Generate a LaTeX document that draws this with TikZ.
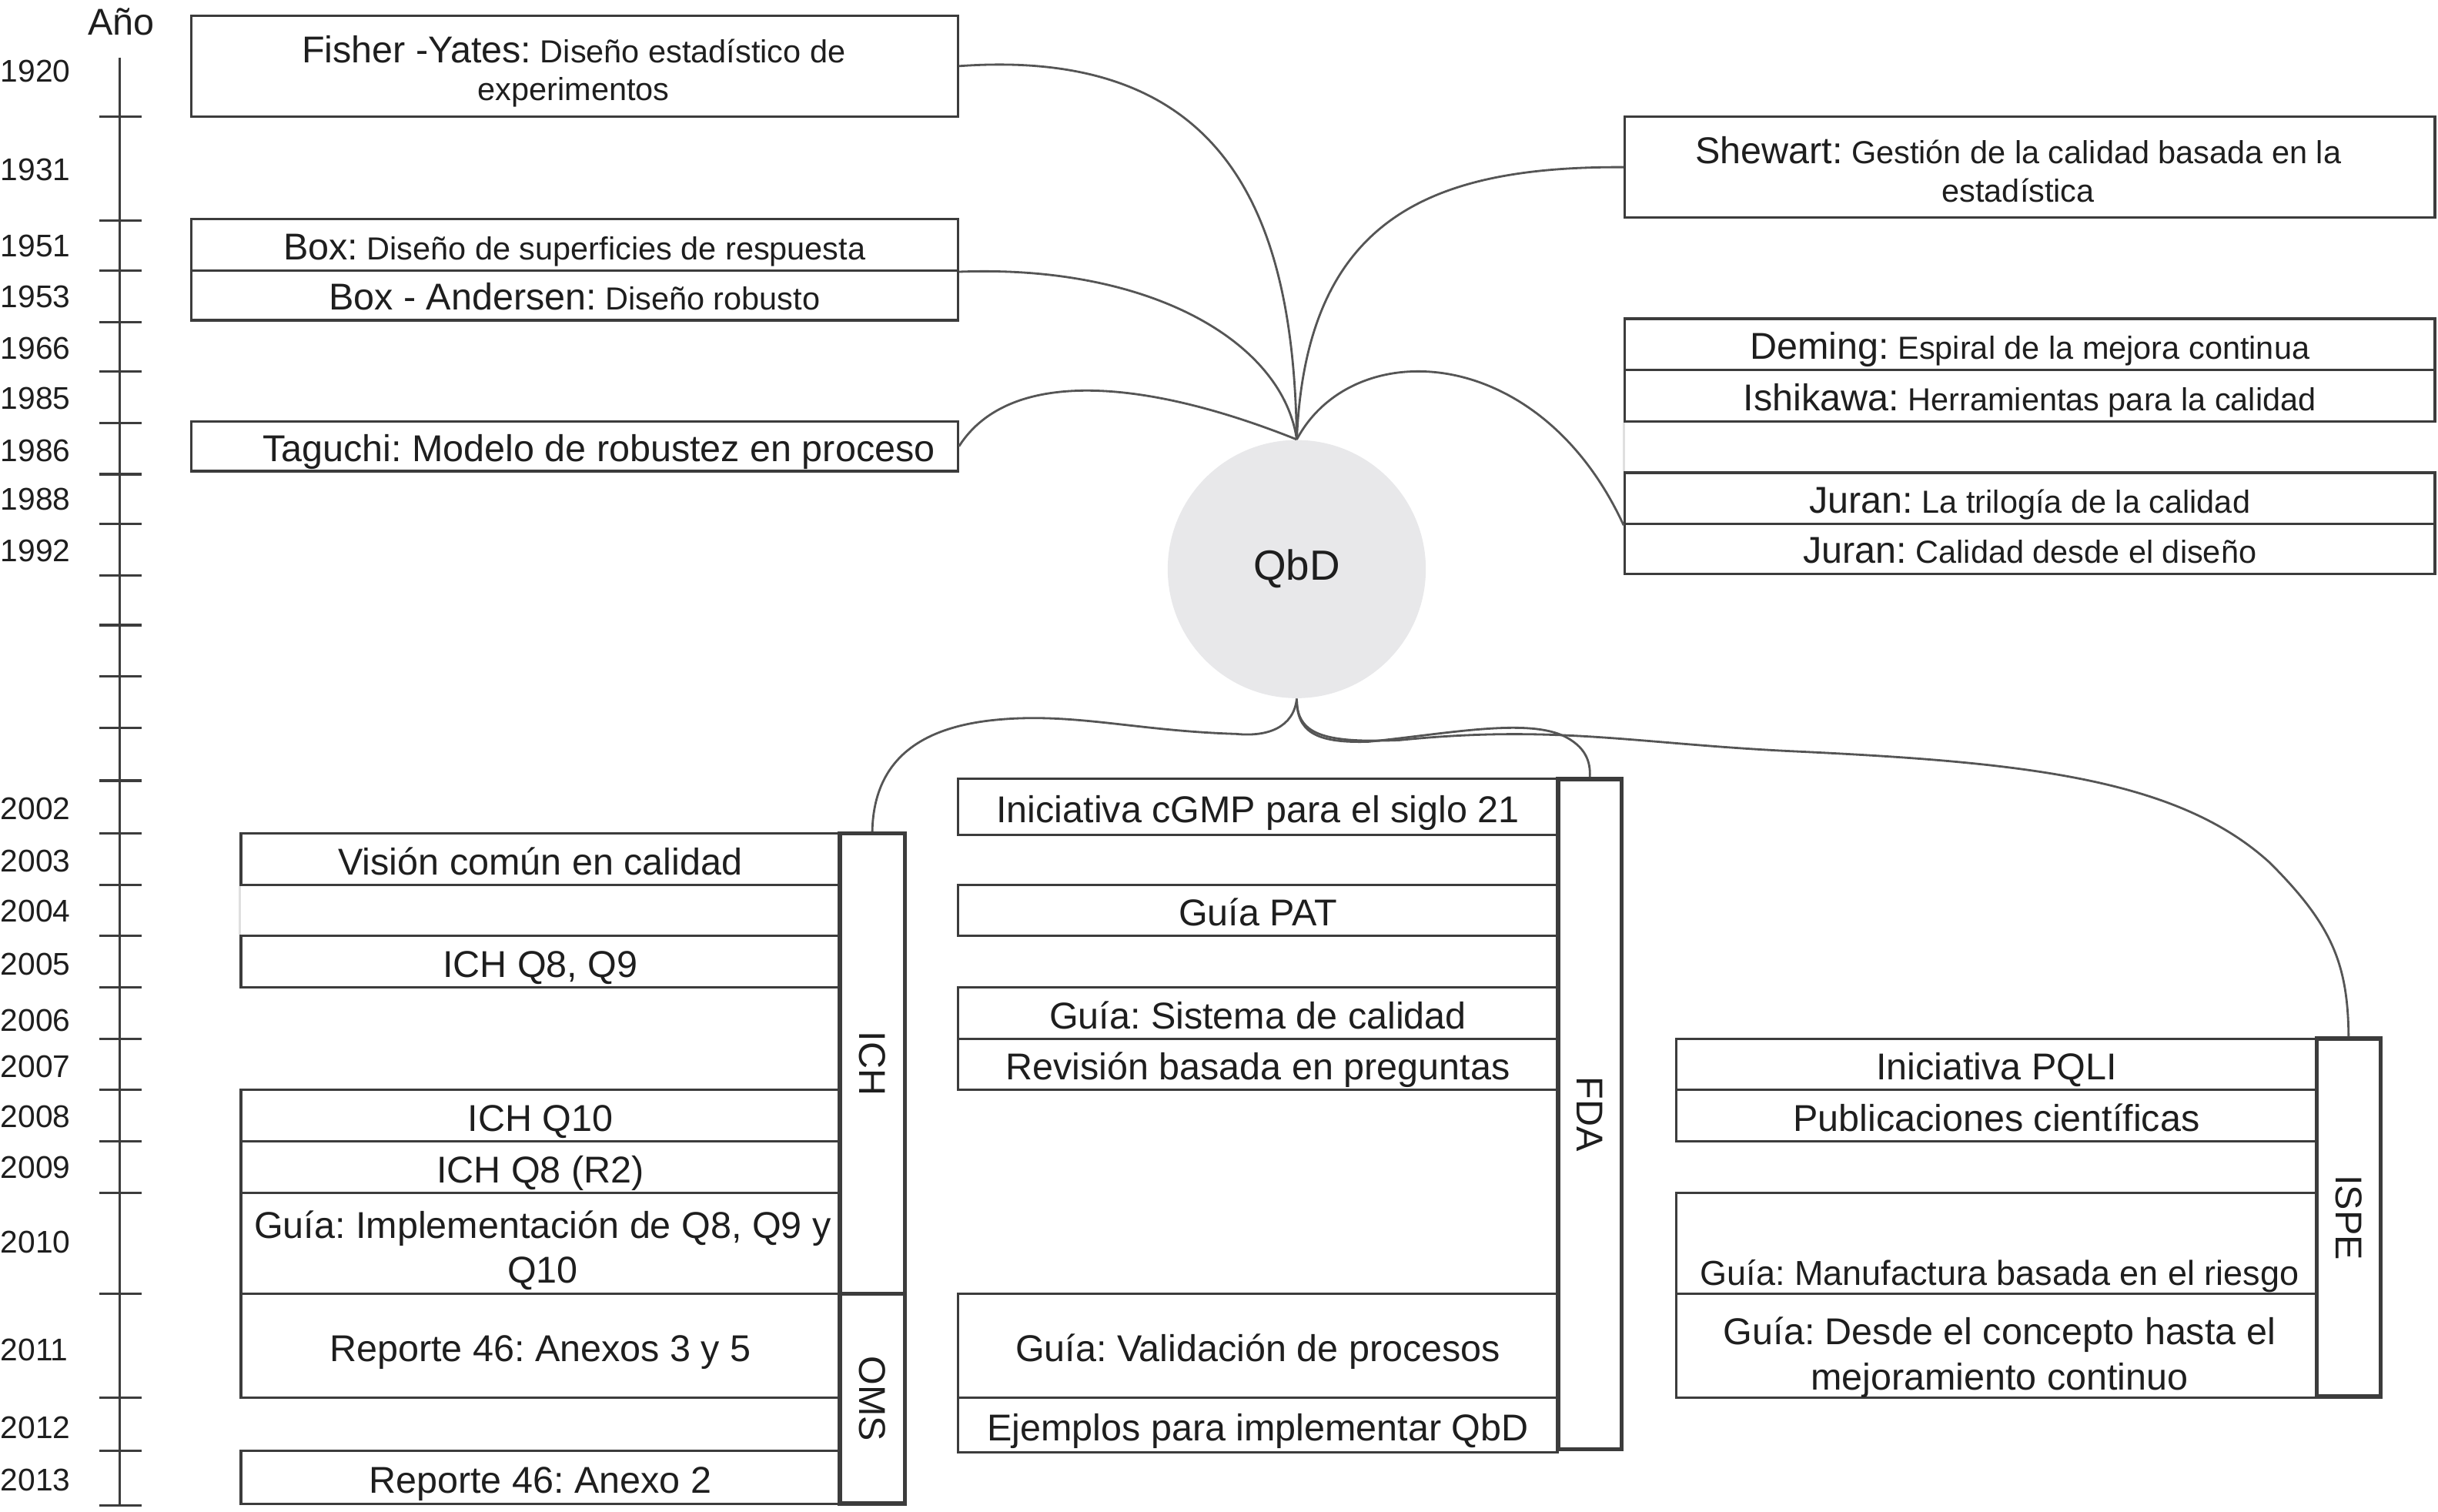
\documentclass[tikz,border=0pt]{standalone}
\usepackage{fontspec}
\setmainfont{Liberation Sans}
\frenchspacing
\newcommand\mainsz{\fontsize{13.8}{16.6}\selectfont}
\newcommand\descsz{\fontsize{11.8}{14}\selectfont}
\newcommand\yrsz{\fontsize{11.6}{14}\selectfont}
\newcommand\qbdsz{\fontsize{15.6}{18}\selectfont}
\definecolor{boxc}{HTML}{3C3C3C}
\definecolor{linec}{HTML}{555555}
\definecolor{txtc}{HTML}{1E1E1E}
\definecolor{qbdc}{HTML}{E8E8EA}
\tikzset{
  cbox/.style={draw=boxc, line width=0.9pt, inner sep=0pt, align=center, text=txtc, font=\mainsz, text height=11.5pt, text depth=0pt},
  dbox/.style={cbox, font=\descsz, text height=10.8pt},
  ebox/.style={draw=boxc, line width=0.9pt, inner sep=0pt},
  mtxt/.style={align=center, text=txtc, font=\mainsz, inner sep=0pt},
  dtxt/.style={mtxt, font=\descsz},
  grp/.style={draw=boxc, line width=1.6pt, inner sep=0pt},
  grplab/.style={rotate=-90, text=txtc, font=\mainsz, inner sep=0pt},
  conn/.style={draw=linec, line width=0.8pt},
  yr/.style={anchor=west, text=txtc, font=\yrsz, inner sep=0pt},
  tickst/.style={draw=boxc, line width=0.9pt},
}
% name, x1, y1, x2, y2, style, text
\newcommand\bx[7]{\node[#6, minimum width={(#4-#2)*0.020198cm}, minimum height={(#5-#3)*0.020198cm}] (#1) at ({(#2+#4)/2},{(#3+#5)/2}) {#7};}
\begin{document}
\begin{tikzpicture}[x=0.020198cm, y=-0.020198cm]
\useasboundingbox (0,0) rectangle (1568,972);
% timeline
\node[text=txtc, font=\mainsz, inner sep=0pt] (ano) at (78,14) {Año};
\draw[tickst] (77,37) -- (77,968);
\foreach \t in {75,142,174,207,239,272,305,337,370,402,435,468,502,536,569,602,635,668,701,734,767,832,899,933,968}
  \draw[tickst] (64,\t) -- (91,\t);
\foreach \n/\yy in {1920/46,1931/109,1951/158,1953/191,1966/224,1985/256,1986/290,1988/321,1992/354,2002/520,2003/554,2004/586,2005/620,2006/656,2007/686,2008/718,2009/751,2010/799,2011/868,2012/918,2013/952}
  \node[yr] (y\n) at (0,\yy) {\n};
% QbD
\node[circle, fill=qbdc, minimum size={166*0.020198cm}, inner sep=0pt, text=txtc, font=\qbdsz] (qbd) at (834,366) {QbD};
% top-left boxes
\bx{fisher}{123}{10}{616}{75}{ebox}{}
\node[dtxt] (fishert) at (369,46) {{\mainsz Fisher -Yates:} Diseño estadístico de\\experimentos};
\bx{box1}{123}{141}{616}{174}{dbox}{{\mainsz Box:} Diseño de superficies de respuesta}
\bx{box2}{123}{174}{616}{206}{dbox}{{\mainsz Box - Andersen:} Diseño robusto}
\bx{taguchi}{123}{271}{616}{303}{cbox}{\hspace*{18pt}Taguchi: Modelo de robustez en proceso}
% top-right boxes
\bx{shewart}{1045}{75}{1566}{140}{ebox}{}
\node[dtxt] (shewartt) at (1298,109) {{\mainsz Shewart:} Gestión de la calidad basada en la\\estadística};
\bx{deming}{1045}{205}{1566}{238}{dbox}{{\mainsz Deming:} Espiral de la mejora continua}
\bx{ishikawa}{1045}{238}{1566}{271}{dbox}{{\mainsz Ishikawa:} Herramientas para la calidad}
\bx{juran1}{1045}{304}{1566}{337}{dbox}{{\mainsz Juran:} La trilogía de la calidad}
\bx{juran2}{1045}{337}{1566}{369}{dbox}{{\mainsz Juran:} Calidad desde el diseño}
\draw[gray!25, line width=0.8pt] (ishikawa.south west) -- (juran1.north west);
% ICH / OMS column
\bx{vision}{155}{536}{540}{569}{cbox}{Visión común en calidad}
\bx{q8q9}{155}{602}{540}{635}{cbox}{ICH Q8, Q9}
\bx{q10}{155}{701}{540}{734}{cbox}{ICH Q10}
\bx{q8r2}{155}{734}{540}{767}{cbox}{ICH Q8 (R2)}
\bx{impl}{155}{767}{540}{832}{ebox}{}
\node[mtxt] (implt) at (349,804) {Guía: Implementación de Q8, Q9 y\\Q10};
\bx{rep35}{155}{832}{540}{899}{cbox}{Reporte 46: Anexos 3 y 5}
\bx{rep2}{155}{933}{540}{967}{cbox}{Reporte 46: Anexo 2}
\draw[gray!25, line width=0.8pt] (vision.south west) -- (q8q9.north west);
\bx{ich}{540}{536}{582}{832}{grp}{}
\bx{oms}{540}{832}{582}{967}{grp}{}
\node[grplab] (ichl) at (ich.center) {ICH};
\node[grplab] (omsl) at (oms.center) {OMS};
% FDA column
\bx{cgmp}{616}{501}{1002}{537}{cbox}{Iniciativa cGMP para el siglo 21}
\bx{pat}{616}{569}{1002}{602}{cbox}{Guía PAT}
\bx{sist}{616}{635}{1002}{668}{cbox}{Guía: Sistema de calidad}
\bx{rev}{616}{668}{1002}{701}{cbox}{Revisión basada en preguntas}
\bx{valid}{616}{832}{1002}{899}{cbox}{Guía: Validación de procesos}
\bx{ejem}{616}{899}{1002}{934}{cbox}{Ejemplos para implementar QbD}
\bx{fda}{1002}{501}{1043}{932}{grp}{}
\node[grplab] (fdal) at (fda.center) {FDA};
% ISPE column
\bx{pqli}{1078}{668}{1490}{701}{cbox}{Iniciativa PQLI}
\bx{publ}{1078}{701}{1490}{734}{cbox}{Publicaciones científicas}
\bx{manuf}{1078}{767}{1490}{832}{ebox}{}
\node[text=txtc, font=\fontsize{12.8}{15}\selectfont, inner sep=0pt, text height=11pt, text depth=0pt] (manuft) at (1286,817) {Guía: Manufactura basada en el riesgo};
\bx{desde}{1078}{832}{1490}{899}{ebox}{}
\node[mtxt] (desdet) at (1286,873) {Guía: Desde el concepto hasta el\\mejoramiento continuo};
\bx{ispe}{1490}{668}{1531}{898}{grp}{}
\node[grplab] (ispel) at (ispe.center) {ISPE};
% top connectors
\draw[conn] (fisher.east) .. controls (790,30) and (832,140) .. (qbd.north);
\draw[conn] (box1.south east) .. controls (740,170) and (825,220) .. (qbd.north);
\draw[conn] (taguchi.east) .. controls (650,235) and (740,245) .. (qbd.north);
\draw[conn] (qbd.north) .. controls (840,140) and (920,107) .. (shewart.west);
\draw[conn] (qbd.north) .. controls (870,215) and (990,220) .. (juran1.south west);
% bottom connectors
\draw[conn] (qbd.south) .. controls (832,468) and (815,474) .. (795,472)
  .. controls (730,470) and (690,458) .. (640,463)
  .. controls (590,468) and (562,490) .. (ich.north);
\draw[conn] (qbd.south) .. controls (834,470) and (845,478) .. (880,477)
  .. controls (930,472) and (980,462) .. (1005,473)
  .. controls (1020,480) and (1023,490) .. (fda.north);
\draw[conn] (qbd.south) .. controls (834,472) and (850,478) .. (900,476)
  .. controls (1000,466) and (1050,478) .. (1150,483)
  .. controls (1300,490) and (1400,500) .. (1460,555)
  .. controls (1500,595) and (1510,620) .. (ispe.north);
\end{tikzpicture}
\end{document}
